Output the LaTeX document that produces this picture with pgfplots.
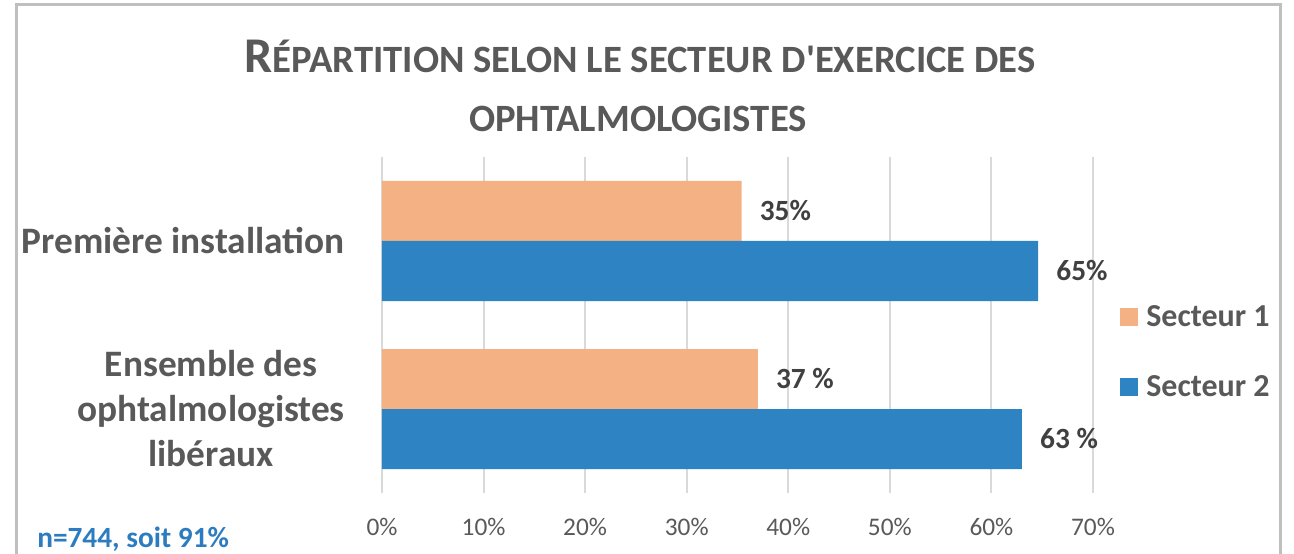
\documentclass[border=0pt]{standalone}
\usepackage{fontspec}
\setmainfont{Carlito}[Ligatures=TeXOff]
\usepackage{pgfplots}
\pgfplotsset{compat=1.18}

\definecolor{sect1}{HTML}{F4B183}
\definecolor{sect2}{HTML}{2E83C3}
\definecolor{txtgray}{HTML}{595959}
\definecolor{lblgray}{HTML}{404040}
\definecolor{gridgray}{HTML}{D9D9D9}
\definecolor{framegray}{HTML}{BFBFBF}
\definecolor{noteblue}{HTML}{2E7CC0}

\begin{document}
\begin{tikzpicture}
% 1px of the reference = 0.75pt; plot area lower-left at (0,0)
\path[use as bounding box] (-286.5pt,-45pt) rectangle (684pt,369.75pt);
\draw[framegray, line width=2.25pt] (-273.75pt,-80pt) -- (-273.75pt,366pt) -- (673.5pt,366pt) -- (673.5pt,-80pt);

\begin{axis}[
  xbar, scale only axis,
  width=533.25pt, height=252pt,
  xmin=0, xmax=70, ymin=-0.5, ymax=1.5,
  bar width=45pt,
  xtick={0,10,20,30,40,50,60,70},
  xticklabels={0\%,10\%,20\%,30\%,40\%,50\%,60\%,70\%},
  ytick={0,1},
  yticklabels={{Ensemble des\\ophtalmologistes\\libéraux},{Première installation}},
  axis line style={draw=none},
  major tick length=0pt,
  xmajorgrids, grid style={gridgray, line width=1.5pt},
  xticklabel style={font=\fontsize{19pt}{22pt}\selectfont, text=txtgray, inner sep=0pt, yshift=-19pt},
  yticklabel style={font=\bfseries\fontsize{28pt}{33.75pt}\selectfont, text=txtgray, align=center, inner sep=0pt, xshift=-27.75pt},
  point meta=explicit symbolic,
  nodes near coords,
  nodes near coords style={font=\bfseries\fontsize{22pt}{26pt}\selectfont, text=lblgray, inner sep=0pt, anchor=west, xshift=13.5pt},
  legend style={draw=none, fill=none, at={(1.038,0.42)}, anchor=west, inner sep=0pt,
    font=\bfseries\fontsize{24pt}{26pt}\selectfont, text=txtgray, row sep=31pt,
    /tikz/every odd column/.append style={column sep=4pt}},
  legend image code/.code={\path[#1, draw=none] (0pt,-6.6pt) rectangle (13.5pt,6.9pt);},
]
\addplot[fill=sect1, draw=none, bar shift=22.5pt] coordinates {(35.4,1) [35\%] (37,0) [37\ \%]};
\addplot[fill=sect2, draw=none, bar shift=-22.5pt] coordinates {(64.6,1) [65\%] (63,0) [63\ \%]};
\legend{Secteur 1, Secteur 2}
\end{axis}

\node[anchor=base, text=txtgray, font=\bfseries, inner sep=0pt] at (193.5pt,315pt)
  {{\fontsize{37.5pt}{40pt}\selectfont R}{\fontsize{29pt}{32pt}\selectfont ÉPARTITION SELON LE SECTEUR D'EXERCICE DES}};
\node[anchor=base, text=txtgray, font=\bfseries\fontsize{29pt}{32pt}\selectfont, inner sep=0pt] at (192pt,270.75pt)
  {OPHTALMOLOGISTES};
\node[anchor=base west, text=noteblue, font=\bfseries\fontsize{22pt}{26pt}\selectfont, inner sep=0pt] at (-258.75pt,-40.5pt)
  {n=744, soit 91\%};
\end{tikzpicture}
\end{document}
